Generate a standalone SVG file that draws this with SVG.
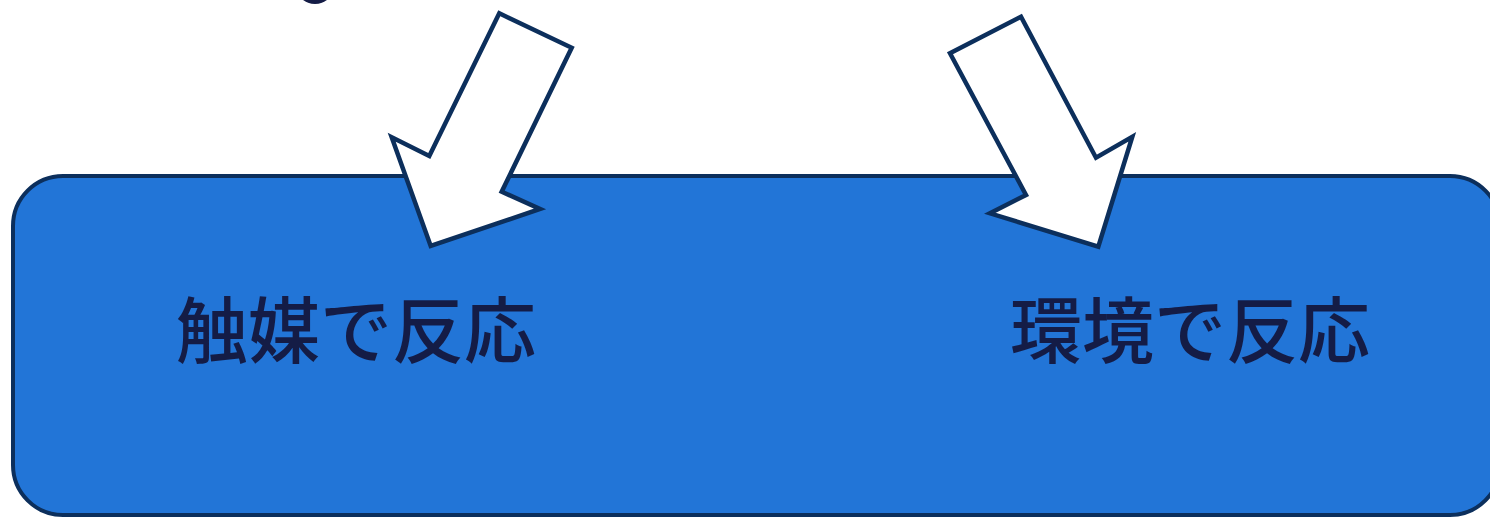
<svg xmlns="http://www.w3.org/2000/svg" width="1490" height="518" viewBox="0 0 1490 518">
  <style>
    .box { fill: #2275d7; stroke: #0c2f5c; stroke-width: 4; }
    .arrow { fill: #ffffff; stroke: #0c2f5c; stroke-width: 4.5; stroke-linejoin: miter; }
    .label { font-family: "Noto Sans CJK JP", "Noto Sans", sans-serif; font-weight: 500; font-size: 72px; fill: #141c46; text-anchor: middle; }
  </style>
  <rect width="1490" height="518" fill="#ffffff"/>
  <ellipse cx="315" cy="-12" rx="18" ry="16" fill="#141c46"/>
  <g id="container">
    <rect class="box" x="13" y="176" width="1487" height="339" rx="50" ry="50"/>
  </g>
  <g id="node-catalyst">
    <text class="label" x="356" y="357">触媒で反応</text>
  </g>
  <g id="node-environment">
    <text class="label" x="1190" y="357">環境で反応</text>
  </g>
  <g id="connectors">
    <polygon class="arrow" points="499.3,13.3 571.7,47.7 501.7,191.7 540,209 430.7,246 391.7,137.3 429.3,156"/>
    <polygon class="arrow" points="1021,16.7 950,53.3 1026,195 990,213.3 1098.3,246.7 1132.3,136.7 1096,157.7"/>
  </g>
</svg>
